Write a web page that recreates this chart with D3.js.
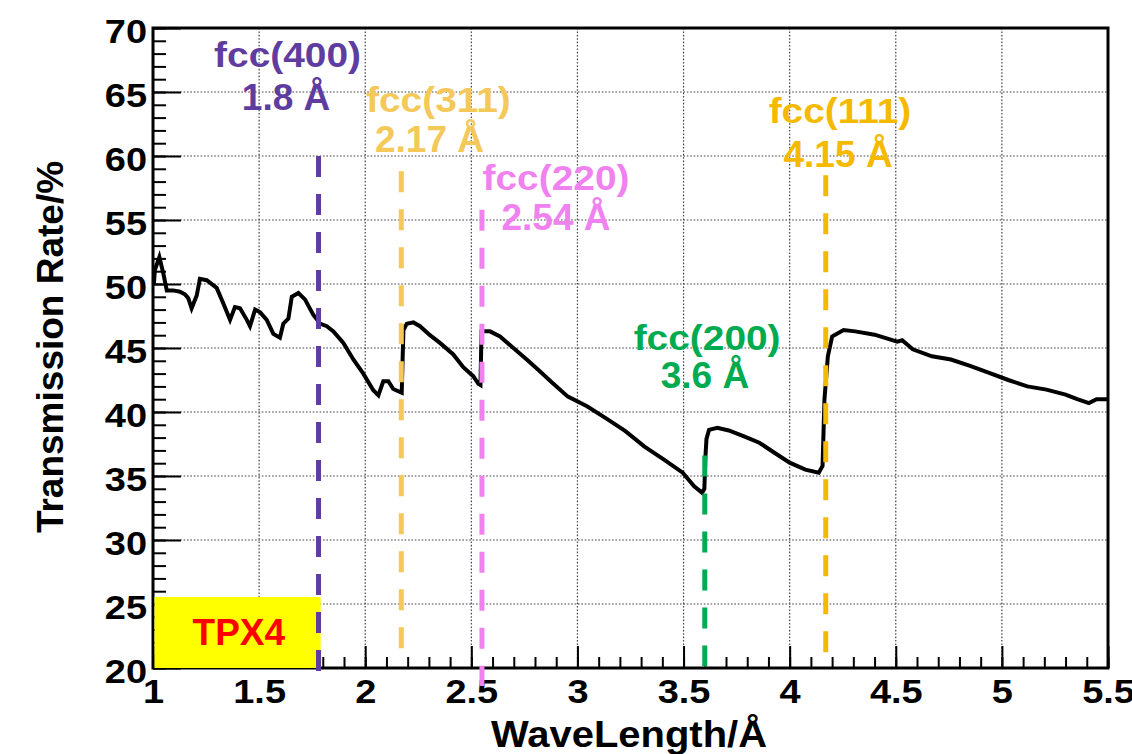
<!DOCTYPE html>
<html>
<head>
<meta charset="utf-8">
<script src="https://cdn.jsdelivr.net/npm/d3@7"></script>
<style>
  body { margin: 0; background: #fff; }
  svg text { font-family: "Liberation Sans", Arial, Helvetica, sans-serif; font-weight: bold; }
</style>
</head>
<body>
<svg id="chart" width="1132" height="754"></svg>
<script>
// DATA
var wavelength = [1.004, 1.009, 1.030, 1.049, 1.065, 1.095, 1.127, 1.150, 1.166, 1.182, 1.206, 1.221, 1.253, 1.300,
    1.331, 1.363, 1.386, 1.410, 1.442, 1.457, 1.481, 1.504, 1.536, 1.567, 1.598, 1.614, 1.638, 1.654,
    1.685, 1.716, 1.755, 1.787, 1.819, 1.850, 1.897, 1.944, 1.991, 2.038, 2.062, 2.085, 2.109, 2.132,
    2.172, 2.176, 2.180, 2.196, 2.227, 2.258, 2.305, 2.352, 2.415, 2.462, 2.509, 2.533, 2.543, 2.548,
    2.565, 2.588, 2.635, 2.698, 2.761, 2.815, 2.880, 2.955, 3.045, 3.135, 3.226, 3.316, 3.406, 3.496,
    3.550, 3.587, 3.598, 3.603, 3.608, 3.620, 3.659, 3.713, 3.785, 3.857, 3.930, 4.000, 4.074, 4.137,
    4.155, 4.164, 4.180, 4.200, 4.254, 4.309, 4.400, 4.507, 4.530, 4.580, 4.670, 4.760, 4.850, 4.940,
    5.030, 5.120, 5.210, 5.300, 5.355, 5.410, 5.446, 5.500];
var transmission = [50.0, 51.1, 52.1, 50.8, 49.5, 49.5, 49.4, 49.2, 48.9, 48.1, 49.1, 50.4, 50.3, 49.7,
    48.5, 47.2, 48.2, 48.1, 47.2, 46.7, 48.0, 47.8, 47.2, 46.1, 45.8, 46.9, 47.3, 49.0,
    49.3, 48.8, 47.6, 46.9, 46.7, 46.3, 45.4, 44.1, 43.0, 41.7, 41.3, 42.4, 42.4, 41.8,
    41.5, 44.0, 46.4, 46.9, 47.0, 46.7, 46.0, 45.4, 44.5, 43.5, 42.8, 42.2, 42.1, 46.3,
    46.3, 46.3, 45.9, 45.0, 44.1, 43.3, 42.3, 41.2, 40.45, 39.5, 38.5, 37.3, 36.3, 35.26,
    34.2, 33.7, 34.0, 36.5, 37.9, 38.6, 38.77, 38.56, 38.1, 37.6, 36.8, 36.04, 35.5, 35.26,
    35.78, 41.0, 44.35, 45.9, 46.4, 46.3, 46.04, 45.5, 45.6, 44.9, 44.35, 44.1, 43.6, 43.05,
    42.5, 42.0, 41.75, 41.36, 41.0, 40.7, 41.0, 41.0];

var xTicks = [1, 1.5, 2, 2.5, 3, 3.5, 4, 4.5, 5, 5.5];
var yTicks = [20, 25, 30, 35, 40, 45, 50, 55, 60, 65, 70];

var peakNames = ["fcc(400)", "fcc(311)", "fcc(220)", "fcc(200)", "fcc(111)"];
var peakValues = ["1.8 Å", "2.17 Å", "2.54 Å", "3.6 Å", "4.15 Å"];
var peakColors = ["#5f3ca0", "#f5c85a", "#f082f0", "#00aa50", "#f5b900"];
var lineX = [1.78, 2.17, 2.55, 3.6, 4.17];
var lineTop = [60, 58.8, 55.8, 36.6, 58.5];
var lineBottom = [19.5, 20.4, 18.6, 19.5, 20.2];
var nameX = [1.634, 2.345, 2.899, 3.611, 4.237];
var nameY = [66.95, 63.44, 57.34, 44.84, 62.58];
var valueX = [1.627, 2.303, 2.899, 3.601, 4.228];
var valueY = [63.59, 60.31, 54.22, 41.88, 59.14];

var boxRange = [1, 1.79, 20, 25.55];

// SVG PARAMETERS
var svg = d3.select("#chart");
var padL = 153, padR = 1108, padT = 28, padB = 668;

var x = d3.scaleLinear().domain([1, 5.5]).range([padL, padR]);
var y = d3.scaleLinear().domain([20, 70]).range([padB, padT]);

svg.append("rect").attr("width", 1132).attr("height", 754).attr("fill", "#fff");

// GRID
var grid = svg.append("g").attr("class", "grid")
    .attr("stroke", "#444").attr("stroke-width", 1.2).attr("stroke-dasharray", "1.6,1.8");
grid.selectAll(".gx").data(xTicks.slice(1, -1)).enter().append("line")
    .attr("x1", function(d) { return x(d); }).attr("x2", function(d) { return x(d); })
    .attr("y1", padT).attr("y2", padB);
grid.selectAll(".gy").data(yTicks.slice(1, -1)).enter().append("line")
    .attr("y1", function(d) { return y(d); }).attr("y2", function(d) { return y(d); })
    .attr("x1", padL).attr("x2", padR);

// AXES (ticks point inward)
function styleTicks(g) {
    g.select(".domain").remove();
    g.selectAll("line").attr("stroke", "#000").attr("stroke-width", 2);
}

svg.append("g")
    .attr("transform", "translate(0," + padB + ")")
    .call(d3.axisBottom(x).tickValues(d3.range(10, 56).map(function(v) { return v / 10; }))
          .tickSize(-11).tickFormat(""))
    .call(styleTicks);

svg.append("g")
    .attr("transform", "translate(" + padL + ",0)")
    .call(d3.axisLeft(y).tickValues(d3.range(20, 71)).tickSize(-13).tickFormat(""))
    .call(styleTicks);

var xAxis = svg.append("g")
    .attr("transform", "translate(0," + padB + ")")
    .call(d3.axisBottom(x).tickValues(xTicks).tickSize(-22).tickFormat(function(d) { return String(d); }))
    .call(styleTicks);
xAxis.selectAll("text")
    .attr("y", 35).attr("dy", null)
    .attr("font-size", 33).attr("fill", "#000")
    .attr("transform", "scale(1.15,1)");

var yAxis = svg.append("g")
    .attr("transform", "translate(" + padL + ",0)")
    .call(d3.axisLeft(y).tickValues(yTicks).tickSize(-28).tickFormat(function(d) { return String(d); }))
    .call(styleTicks);
yAxis.selectAll("text")
    .attr("x", -5.2).attr("y", 14.5).attr("dy", null)
    .attr("font-size", 33).attr("fill", "#000")
    .attr("transform", "scale(1.15,1)");

// FRAME
svg.append("rect")
    .attr("x", padL).attr("y", padT)
    .attr("width", padR - padL).attr("height", padB - padT)
    .attr("fill", "none").attr("stroke", "#000").attr("stroke-width", 3);

// CURVE
var line = d3.line()
    .x(function(d) { return x(d[0]); })
    .y(function(d) { return y(d[1]); });

svg.append("path")
    .datum(d3.zip(wavelength, transmission))
    .attr("d", line)
    .attr("fill", "none")
    .attr("stroke", "#000")
    .attr("stroke-width", 4)
    .attr("stroke-linejoin", "miter");

// TPX4 BOX
svg.append("rect")
    .attr("x", x(boxRange[0]) + 1.5)
    .attr("y", y(boxRange[3]))
    .attr("width", x(boxRange[1]) - x(boxRange[0]) - 1.5)
    .attr("height", y(boxRange[2]) - y(boxRange[3]))
    .attr("fill", "#ffff00");
svg.append("text")
    .attr("x", x((boxRange[0] + boxRange[1]) / 2) + 2)
    .attr("y", 645)
    .attr("text-anchor", "middle")
    .attr("font-size", 37)
    .attr("fill", "#ff0000")
    .text("TPX4");

// PEAK LINES + LABELS
var peaks = d3.range(peakNames.length);

svg.append("g").selectAll("line").data(peaks).enter().append("line")
    .attr("x1", function(i) { return x(lineX[i]); })
    .attr("x2", function(i) { return x(lineX[i]); })
    .attr("y1", function(i) { return y(lineTop[i]); })
    .attr("y2", function(i) { return y(lineBottom[i]); })
    .attr("stroke", function(i) { return peakColors[i]; })
    .attr("stroke-width", 5)
    .attr("stroke-dasharray", "21,17");

var labels = svg.append("g").attr("text-anchor", "middle");
labels.selectAll(".pname").data(peaks).enter().append("text")
    .attr("font-size", 36)
    .attr("transform", function(i) {
        return "translate(" + x(nameX[i]) + "," + y(nameY[i]) + ") scale(1.08,1)"; })
    .attr("fill", function(i) { return peakColors[i]; })
    .text(function(i) { return peakNames[i]; });
labels.selectAll(".pval").data(peaks).enter().append("text")
    .attr("font-size", 36)
    .attr("transform", function(i) {
        return "translate(" + x(valueX[i]) + "," + y(valueY[i]) + ") scale(1.03,1)"; })
    .attr("fill", function(i) { return peakColors[i]; })
    .text(function(i) { return peakValues[i]; });

// AXIS TITLES
svg.append("text")
    .attr("transform", "translate(629,747) scale(1.08,1)")
    .attr("text-anchor", "middle")
    .attr("font-size", 37)
    .attr("fill", "#000")
    .text("WaveLength/Å");

svg.append("text")
    .attr("transform", "translate(63,347) rotate(-90)")
    .attr("text-anchor", "middle")
    .attr("font-size", 37)
    .attr("fill", "#000")
    .text("Transmission Rate/%");
</script>
</body>
</html>
